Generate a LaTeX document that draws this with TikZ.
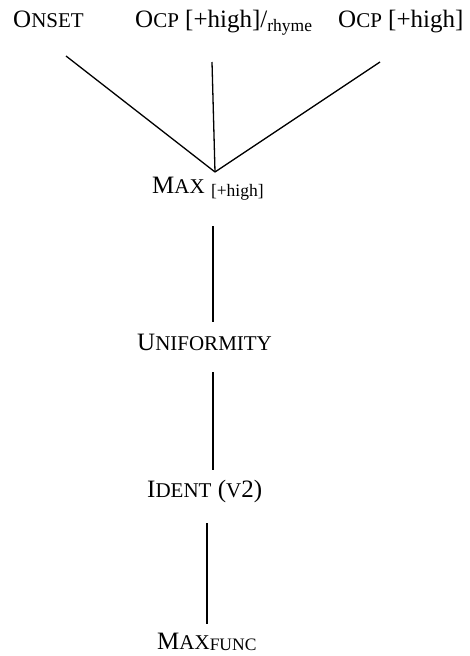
\documentclass[tikz,border=0pt]{standalone}
\usepackage{fontspec}
\setmainfont{Liberation Serif}
\newcommand\mysc[1]{{\fontsize{21}{22}\selectfont #1}}
\newcommand\mysub[1]{{\fontsize{17.5}{18}\selectfont #1}}
\begin{document}
\begin{tikzpicture}[x=1pt,y=-1pt,
  lab/.style={anchor=base west,inner sep=0pt,font=\fontsize{25}{27}\selectfont},
  conn/.style={line width=1.3pt}]
\useasboundingbox (0,0) rectangle (470,656);
\node[lab] (onset) at (13,27) {O\mysc{NSET}};
\node[lab] (ocpr) at (135,27) {O\mysc{CP} [+high]/\raisebox{-4pt}{\mysub{rhyme}}};
\node[lab] (ocp) at (338,27) {O\mysc{CP} [+high]};
\node[lab] (max) at (152,193) {M\mysc{AX} \raisebox{-3pt}{\mysub{[+high]}}};
\node[lab] (unif) at (137,350) {U\mysc{NIFORMITY}};
\node[lab] (ident) at (147,497) {I\mysc{DENT} (\mysc{V}2)};
\node[lab] (maxf) at (157,649) {M\mysc{AX}\raisebox{-1.5pt}{\mysub{FUNC}}};
\coordinate (j) at (215,172);
\coordinate (a1) at (66,56);
\coordinate (a2) at (212,62);
\coordinate (a3) at (380,62);
\coordinate (b1) at (213,226);
\coordinate (b2) at (213,322);
\coordinate (c1) at (213,372);
\coordinate (c2) at (213,470);
\coordinate (d1) at (207,523);
\coordinate (d2) at (207,624);
\draw[conn] (a1) -- (j);
\draw[conn] (a2) -- (j);
\draw[conn] (a3) -- (j);
\draw[conn] (b1) -- (b2);
\draw[conn] (c1) -- (c2);
\draw[conn] (d1) -- (d2);
\end{tikzpicture}
\end{document}
